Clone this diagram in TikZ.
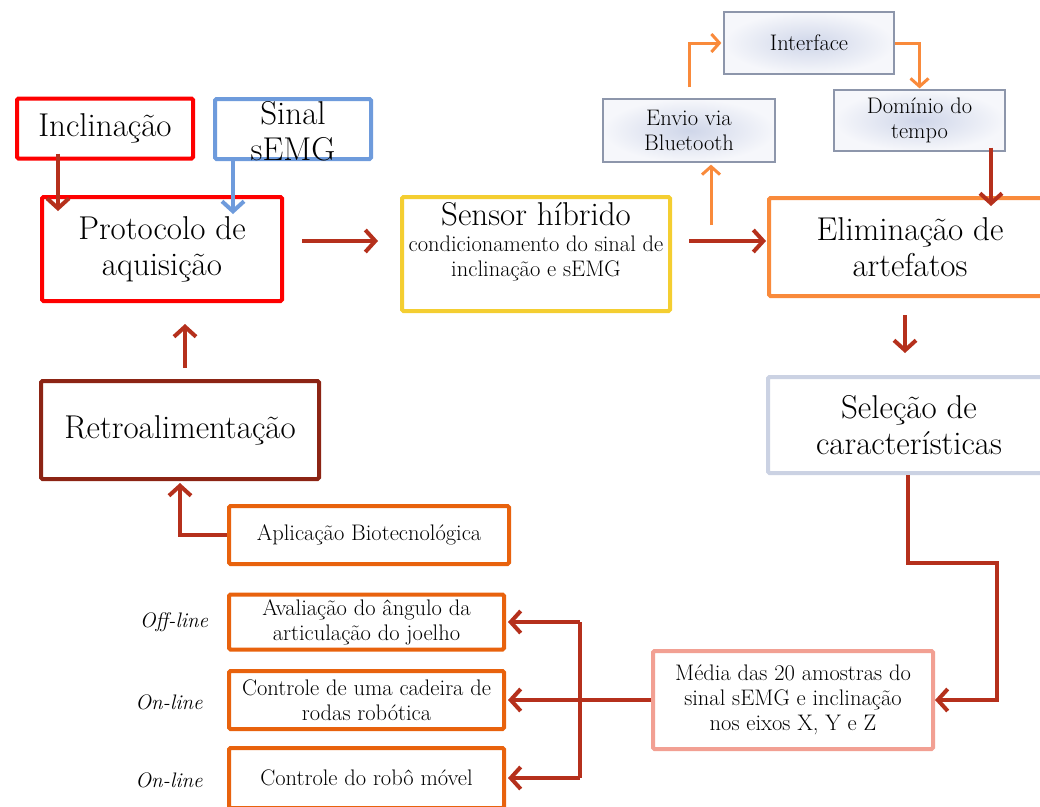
\documentclass[tikz,border=0pt]{standalone}
\usepackage{fontspec}
\usetikzlibrary{arrows.meta}

\definecolor{boxred}{HTML}{FE0000}
\definecolor{boxblue}{HTML}{6E9BDC}
\definecolor{linkred}{HTML}{B5301C}
\definecolor{boxyellow}{HTML}{F4CE31}
\definecolor{lightorange}{HTML}{F98A3B}
\definecolor{selgray}{HTML}{CBD2E3}
\definecolor{retrored}{HTML}{8C2414}
\definecolor{outorange}{HTML}{E8620D}
\definecolor{salmon}{HTML}{F2A093}
\definecolor{softedge}{HTML}{8D96AB}
\definecolor{softin}{HTML}{CFD6E9}
\definecolor{softout}{HTML}{F6F7FB}

\tikzset{
  box/.style={draw, line width=4pt, fill=white, inner sep=0pt, align=center, rounded corners=1.5pt},
  soft/.style={draw=softedge, line width=1.2pt, inner color=softin, outer color=softout,
               inner sep=0pt, align=center},
  dims/.style 2 args={minimum width=#1, minimum height=#2},
  big/.style={font=\fontsize{33}{36}\selectfont},
  mid/.style={font=\fontsize{22.5}{25}\selectfont},
  txt/.style={inner sep=0pt, align=center},
  tag/.style={inner sep=0pt, font=\fontsize{21}{25}\selectfont\itshape},
  link/.style={draw=linkred, line width=4pt, -{Straight Barb[length=10pt,width=22pt]}},
  wire/.style={draw=linkred, line width=4pt},
  feed/.style={draw=boxblue, line width=4pt, -{Straight Barb[length=10pt,width=22pt]}},
  hop/.style={draw=lightorange, line width=3pt, -{Straight Barb[length=8pt,width=18pt]}},
}

\begin{document}
\begin{tikzpicture}[x=1pt,y=-1pt]
\useasboundingbox (0,0) rectangle (1040,806);
\clip (0,0) rectangle (1040,806);

% input blocks
\node[box, draw=boxred, dims={176pt}{60pt}, big] (incl) at (105,128.5) {Inclinação};
\node[box, draw=boxblue, dims={156pt}{60pt}] (sinal) at (293,129) {};
\node[txt, big] (sinaltxt) at (293,131) {Sinal\\sEMG};
\node[box, draw=boxred, dims={240pt}{104pt}, big] (proto) at (162,249) {Protocolo de\\aquisição};

% hybrid sensor
\node[box, draw=boxyellow, dims={268pt}{114pt}] (sensor) at (536,254) {};
\node[txt, big] (sensortitle) at (536,214) {Sensor híbrido};
\node[txt, mid] (sensorsub) at (536,258.5) {condicionamento do sinal de\\inclinação e sEMG};

% wireless path
\node[soft, dims={172pt}{63pt}, mid] (envio) at (689,130.5) {Envio via\\Bluetooth};
\node[soft, dims={170pt}{62pt}, mid] (iface) at (809,43) {Interface};
\node[soft, dims={171pt}{61pt}, mid] (dom) at (919.5,120.5) {Domínio do\\tempo};

% processing chain
\node[box, draw=lightorange, dims={282pt}{98pt}, big] (elim) at (910,247) {Eliminação de\\artefatos};
\node[box, draw=selgray, dims={282pt}{96pt}, big] (sel) at (909,425) {Seleção de\\características};
\node[box, draw=salmon, dims={280pt}{98pt}, mid] (media) at (793,700) {Média das 20 amostras do\\sinal sEMG e inclinação\\nos eixos X, Y e Z};

% feedback side
\node[box, draw=retrored, dims={278pt}{98pt}, big] (retro) at (180,430) {Retroalimentação};
\node[box, draw=outorange, dims={280pt}{58pt}, mid] (aplic) at (369,535) {Aplicação Biotecnológica};

% applications
\node[box, draw=outorange, dims={275pt}{55pt}, mid] (aval) at (366.5,622) {Avaliação do ângulo da\\articulação do joelho};
\node[box, draw=outorange, dims={275pt}{58pt}, mid] (cadeira) at (366.5,700) {Controle de uma cadeira de\\rodas robótica};
\node[box, draw=outorange, dims={275pt}{60pt}] (robo) at (366.5,778) {};
\node[txt, mid] (robotxt) at (366.5,778) {Controle do robô móvel};

\node[tag] (offl) at (174,622) {Off-line};
\node[tag] (onl1) at (169,702) {On-line};
\node[tag] (onl2) at (169,780) {On-line};

% connectors
\draw[link] ([xshift=-47pt,yshift=7pt]incl.south) -- ([xshift=-104pt,yshift=-16pt]proto.north);
\draw[feed] ([xshift=-60pt,yshift=2pt]sinal.south) -- ([xshift=71pt,yshift=-19pt]proto.north);
\draw[link] ([xshift=18pt,yshift=8pt]proto.east) -- ([xshift=-22pt,yshift=13pt]sensor.west);
\draw[link] ([xshift=17pt,yshift=13pt]sensor.east) -- ([xshift=-1pt,yshift=6pt]elim.west);

\coordinate (tap) at (711,225);
\draw[hop, shorten >=2pt] (tap) -- (tap |- envio.south);
\draw[hop, shorten >=2pt] ([yshift=11pt]envio.north) |- (iface.west);
\draw[hop, shorten >=1pt] (iface.east) -| (dom.north);

\draw[link] ([xshift=71.5pt,yshift=4pt]dom.south) -- ([xshift=81pt,yshift=-10pt]elim.north);
\draw[link] ([xshift=-5pt,yshift=-17pt]elim.south) -- ([xshift=-4pt,yshift=22pt]sel.north);
\draw[link] ([xshift=-1pt]sel.south) -- ++(0,88) -| ([xshift=62pt]media.east) -- (media.east);

\coordinate (hub) at (580,700);
\draw[link, shorten >=2pt] (media.west) -- (cadeira.east);
\draw[wire] (hub |- aval.east) -- (hub |- robo.east);
\draw[link, shorten >=2pt] (hub |- aval.east) -- (aval.east);
\draw[link, shorten >=2pt] (hub |- robo.east) -- (robo.east);

\draw[link, shorten >=2pt] (aplic.west) -| (retro.south);
\draw[link] ([xshift=5pt,yshift=11pt]retro.north) -- ([xshift=23pt,yshift=-21pt]proto.south);
\end{tikzpicture}
\end{document}
